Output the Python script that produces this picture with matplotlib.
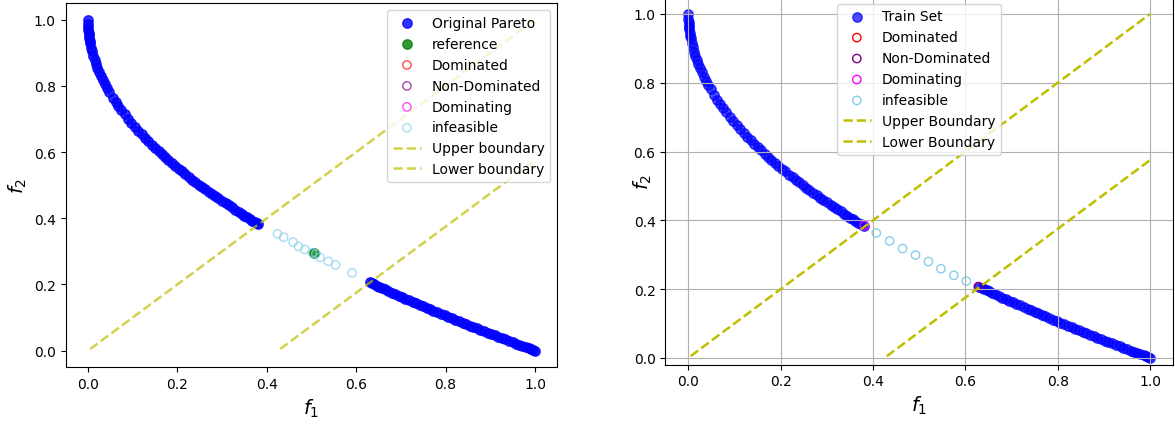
import matplotlib
matplotlib.use("Agg")
import matplotlib.pyplot as plt

# ---- data ----
pareto_f1 = [0.0, 0.0002, 0.0005, 0.001, 0.0015, 0.002, 0.003, 0.004, 0.005, 0.007, 0.009, 0.012, 0.015, 0.018,
             0.021, 0.025, 0.029, 0.033, 0.038, 0.043, 0.048, 0.055, 0.062, 0.068,
             0.075, 0.082, 0.09, 0.097, 0.105, 0.112, 0.12, 0.128, 0.135, 0.143,
             0.15, 0.158, 0.165, 0.172, 0.18, 0.188, 0.195, 0.203, 0.21, 0.218,
             0.226, 0.233, 0.24, 0.248, 0.255, 0.262, 0.27, 0.278, 0.285, 0.292,
             0.3, 0.308, 0.315, 0.322, 0.33, 0.337, 0.344, 0.35, 0.356, 0.362,
             0.368, 0.373, 0.378, 0.381,
             0.63, 0.635, 0.64, 0.646, 0.652, 0.658, 0.665, 0.672, 0.68, 0.688,
             0.695, 0.703, 0.71, 0.718, 0.727, 0.735, 0.742, 0.75, 0.758, 0.766,
             0.773, 0.781, 0.79, 0.798, 0.806, 0.814, 0.822, 0.83, 0.838, 0.846,
             0.854, 0.862, 0.87, 0.878, 0.886, 0.894, 0.902, 0.91, 0.918, 0.926,
             0.934, 0.942, 0.95, 0.958, 0.965, 0.972, 0.979, 0.986, 0.992, 0.996, 1.0]
pareto_f2 = [1.0, 0.986, 0.978, 0.968, 0.961, 0.955, 0.945, 0.937, 0.929, 0.916, 0.905, 0.890, 0.878, 0.866,
             0.855, 0.842, 0.830, 0.818, 0.805, 0.793, 0.781, 0.765, 0.751, 0.739,
             0.726, 0.714, 0.700, 0.689, 0.676, 0.665, 0.654, 0.642, 0.633, 0.622,
             0.613, 0.603, 0.594, 0.585, 0.576, 0.566, 0.558, 0.549, 0.542, 0.533,
             0.525, 0.517, 0.510, 0.502, 0.495, 0.488, 0.480, 0.473, 0.466, 0.460,
             0.452, 0.445, 0.439, 0.433, 0.426, 0.419, 0.413, 0.408, 0.403, 0.398,
             0.393, 0.389, 0.385, 0.383,
             0.206, 0.203, 0.200, 0.196, 0.193, 0.189, 0.185, 0.180, 0.175, 0.171,
             0.166, 0.162, 0.157, 0.153, 0.147, 0.143, 0.139, 0.134, 0.129, 0.125,
             0.121, 0.116, 0.111, 0.107, 0.102, 0.098, 0.093, 0.089, 0.085, 0.080,
             0.076, 0.072, 0.067, 0.063, 0.059, 0.054, 0.050, 0.046, 0.042, 0.038,
             0.034, 0.029, 0.025, 0.021, 0.018, 0.014, 0.011, 0.007, 0.004, 0.002, 0.0]

# left panel
ref_f1 = [0.505]
ref_f2 = [0.295]
infeas_left_f1 = [0.424, 0.438, 0.459, 0.471, 0.485, 0.502, 0.510, 0.519, 0.538, 0.554, 0.591]
infeas_left_f2 = [0.353, 0.343, 0.328, 0.315, 0.306, 0.296, 0.293, 0.282, 0.270, 0.259, 0.235]

# right panel
infeas_right_f1 = [0.407, 0.436, 0.464, 0.492, 0.520, 0.547, 0.575, 0.602]
infeas_right_f2 = [0.363, 0.340, 0.318, 0.299, 0.280, 0.259, 0.240, 0.223]
dominating_f1 = [0.381]
dominating_f2 = [0.385]
nondom_f1 = [0.628]
nondom_f2 = [0.207]

upper_f1 = [0.005, 1.0]
upper_f2 = [0.005, 1.0]
lower_f1 = [0.43, 1.0]
lower_f2 = [0.005, 0.575]

fig = plt.figure(figsize=(11.75, 4.31), dpi=100)
ax1 = fig.add_axes([0.0558, 0.1457, 0.4185, 0.8445])
ax2 = fig.add_axes([0.5662, 0.1515, 0.4322, 0.8536])

S = 46

# ---- left ----
ax1.scatter(pareto_f1, pareto_f2, s=S, color='blue', alpha=0.8, label='Original Pareto')
ax1.scatter(ref_f1, ref_f2, s=S, color='green', alpha=0.8, label='reference')
ax1.scatter([], [], facecolors='none', edgecolors='red', alpha=0.7, label='Dominated')
ax1.scatter([], [], facecolors='none', edgecolors='purple', alpha=0.7, label='Non-Dominated')
ax1.scatter([], [], facecolors='none', edgecolors='magenta', alpha=0.7, label='Dominating')
ax1.scatter(infeas_left_f1, infeas_left_f2, facecolors='none', edgecolors='skyblue',
            alpha=0.7, label='infeasible')
ax1.plot(upper_f1, upper_f2, '--', color='y', lw=1.8, alpha=0.7, label='Upper boundary')
ax1.plot(lower_f1, lower_f2, '--', color='y', lw=1.8, alpha=0.7, label='Lower boundary')
ax1.set_xlim(-0.05, 1.05)
ax1.set_ylim(-0.05, 1.05)
ax1.set_xlabel('$f_1$', fontsize=14)
ax1.set_ylabel('$f_2$', fontsize=14)
ax1.yaxis.set_label_coords(-0.074, 0.5)
ax1.legend(loc='upper right', fontsize=10)

# ---- right ----
ax2.scatter(pareto_f1, pareto_f2, s=S, color='blue', alpha=0.7, label='Train Set')
ax2.scatter([], [], facecolors='none', edgecolors='red', label='Dominated')
ax2.scatter(nondom_f1, nondom_f2, facecolors='none', edgecolors='purple', label='Non-Dominated')
ax2.scatter(dominating_f1, dominating_f2, facecolors='none', edgecolors='magenta', label='Dominating')
ax2.scatter(infeas_right_f1, infeas_right_f2, facecolors='none', edgecolors='skyblue',
            label='infeasible')
ax2.plot(upper_f1, upper_f2, '--', color='y', lw=1.8, label='Upper Boundary')
ax2.plot(lower_f1, lower_f2, '--', color='y', lw=1.8, label='Lower Boundary')
ax2.set_xlim(-0.05, 1.05)
ax2.set_ylim(-0.02, 1.05)
ax2.grid(True)
ax2.set_xlabel('$f_1$', fontsize=14)
ax2.set_ylabel('$f_2$', fontsize=14)
ax2.yaxis.set_label_coords(-0.022, 0.5)
ax2.legend(loc='upper center', fontsize=10)

fig.savefig('out.png', dpi=100)
